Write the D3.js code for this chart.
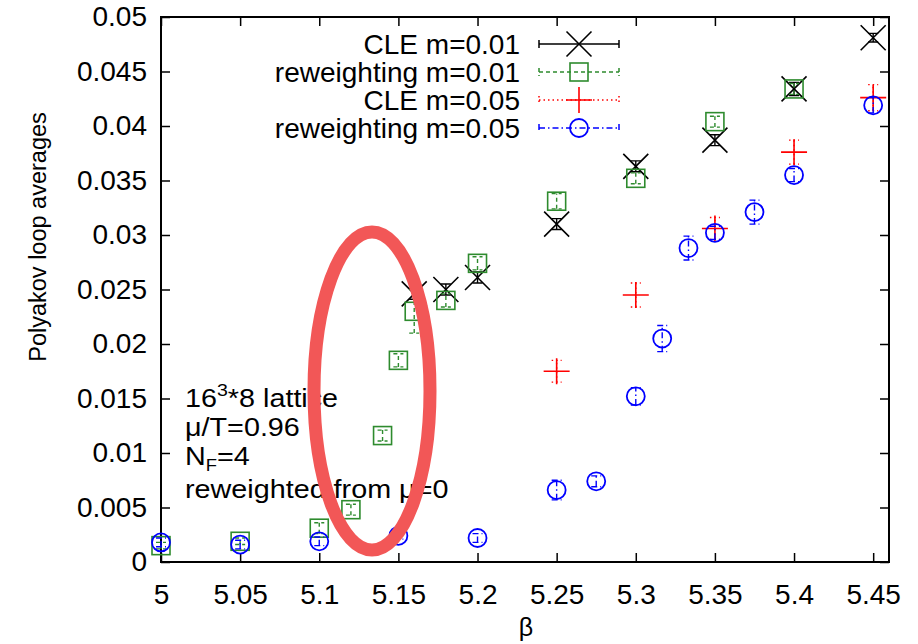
<!DOCTYPE html>
<html>
<head>
<meta charset="utf-8">
<script src="https://cdn.jsdelivr.net/npm/d3@7"></script>
<style>
  body { margin: 0; background: #fff; }
  text { font-family: "Liberation Sans", Arial, Helvetica, sans-serif; fill: #000; }
</style>
</head>
<body>
<div id="vis"></div>
<script>
var width = 918;
var height = 644;
var margin = { top: 17, right: 29, bottom: 82, left: 161 };

// CLE m=0.01
var betaCle01 = [5.16, 5.18, 5.2, 5.25, 5.3, 5.35, 5.4, 5.45];
var cle01 = [0.0246, 0.0250, 0.0261, 0.0310, 0.0363, 0.0387, 0.0434, 0.0481];
var cle01Err = [0.0005, 0.0005, 0.0005, 0.0005, 0.0005, 0.0005, 0.0006, 0.0004];

// reweighting m=0.01
var betaRw01 = [5.0, 5.05, 5.1, 5.12, 5.14, 5.15, 5.16, 5.18, 5.2, 5.25, 5.3, 5.35, 5.4];
var rw01 = [0.0015, 0.0019, 0.0031, 0.0048, 0.0116, 0.0185, 0.0230, 0.0240, 0.0274, 0.0331, 0.0352, 0.0404, 0.0434];
var rw01Err = [0.0003, 0.0003, 0.0005, 0.0005, 0.0005, 0.0006, 0.0020, 0.0006, 0.0006, 0.0007, 0.0005, 0.0005, 0.0005];

// CLE m=0.05
var betaCle05 = [5.25, 5.3, 5.35, 5.4, 5.45];
var cle05 = [0.0175, 0.0245, 0.0306, 0.0376, 0.0426];
var cle05Err = [0.0010, 0.0011, 0.0010, 0.0011, 0.0012];

// reweighting m=0.05
var betaRw05 = [5.0, 5.05, 5.1, 5.15, 5.2, 5.25, 5.275, 5.3, 5.3167, 5.3333, 5.35, 5.375, 5.4, 5.45];
var rw05 = [0.0018, 0.0016, 0.0019, 0.0024, 0.0022, 0.0066, 0.0074, 0.0152, 0.0205, 0.0288, 0.0302, 0.0321, 0.0355, 0.0419];
var rw05Err = [0.0004, 0.0004, 0.0004, 0.0003, 0.0004, 0.0009, 0.0005, 0.0008, 0.0012, 0.0011, 0.0006, 0.0011, 0.0006, 0.0007];

var xTicks = [5, 5.05, 5.1, 5.15, 5.2, 5.25, 5.3, 5.35, 5.4, 5.45];
var yTicks = [0, 0.005, 0.01, 0.015, 0.02, 0.025, 0.03, 0.035, 0.04, 0.045, 0.05];

var legendLabels = ['CLE m=0.01', 'reweighting m=0.01', 'CLE m=0.05', 'reweighting m=0.05'];
var noteLines = ['16|3|*8 lattice', 'μ/T=0.96', 'N_F=4', 'reweighted from μ=0'];

var series = [
    { beta: betaCle01, val: cle01, err: cle01Err, color: '#000000', dash: null, marker: 'x' },
    { beta: betaRw01, val: rw01, err: rw01Err, color: '#2e8b2e', dash: '4,3', marker: 'square' },
    { beta: betaCle05, val: cle05, err: cle05Err, color: '#ff0000', dash: '1.5,3', marker: 'plus' },
    { beta: betaRw05, val: rw05, err: rw05Err, color: '#0000ff', dash: '6,3,1.5,3', marker: 'circle' }
];

var svg = d3.select('#vis').append('svg')
    .attr('width', width)
    .attr('height', height);

var x = d3.scaleLinear().domain([5, 5.46]).range([margin.left, width - margin.right]);
var y = d3.scaleLinear().domain([0, 0.05]).range([height - margin.bottom, margin.top]);

// tick marks on all four sides, pointing inward
var tickLen = 9;
var yAxisL = d3.axisLeft(y).tickValues(yTicks).tickSizeInner(-tickLen).tickSizeOuter(0).tickPadding(14)
    .tickFormat(function (d) { return d === 0 ? '0' : String(+d.toFixed(3)); });
var yAxisR = d3.axisRight(y).tickValues(yTicks).tickSizeInner(-tickLen).tickSizeOuter(0).tickFormat('');
var xAxisB = d3.axisBottom(x).tickValues(xTicks).tickSizeInner(-tickLen).tickSizeOuter(0).tickPadding(22)
    .tickFormat(function (d) { return d === 5 ? '5' : String(+d.toFixed(2)); });
var xAxisT = d3.axisTop(x).tickValues(xTicks).tickSizeInner(-tickLen).tickSizeOuter(0).tickFormat('');

function styleAxis(g) {
    g.select('.domain').remove();
    g.selectAll('line').attr('stroke', '#000').attr('stroke-width', 1.5);
    g.selectAll('text').attr('font-size', 28).attr('font-family', '"Liberation Sans", Arial, sans-serif');
}

svg.append('g').attr('transform', 'translate(' + margin.left + ',0)').call(yAxisL).call(styleAxis);
svg.append('g').attr('transform', 'translate(' + (width - margin.right) + ',0)').call(yAxisR).call(styleAxis);
svg.append('g').attr('transform', 'translate(0,' + (height - margin.bottom) + ')').call(xAxisB).call(styleAxis);
svg.append('g').attr('transform', 'translate(0,' + margin.top + ')').call(xAxisT).call(styleAxis);

// frame
svg.append('rect')
    .attr('x', margin.left)
    .attr('y', margin.top)
    .attr('width', width - margin.left - margin.right)
    .attr('height', height - margin.top - margin.bottom)
    .attr('fill', 'none')
    .attr('stroke', '#000')
    .attr('stroke-width', 2);

// axis titles
svg.append('text')
    .attr('transform', 'translate(46,237) rotate(-90)')
    .attr('text-anchor', 'middle')
    .attr('font-size', 23.5)
    .text('Polyakov loop averages');

svg.append('text')
    .attr('x', 526)
    .attr('y', 636)
    .attr('text-anchor', 'middle')
    .attr('font-size', 25)
    .text('β');

// marker drawing
function drawMarker(g, type, cx, cy, color) {
    if (type === 'x') {
        g.append('path').attr('d', 'M' + (cx - 12.5) + ',' + (cy - 12.5) + 'L' + (cx + 12.5) + ',' + (cy + 12.5) +
            'M' + (cx - 12.5) + ',' + (cy + 12.5) + 'L' + (cx + 12.5) + ',' + (cy - 12.5))
            .attr('stroke', color).attr('stroke-width', 1.6).attr('fill', 'none');
    } else if (type === 'plus') {
        g.append('path').attr('d', 'M' + (cx - 13) + ',' + cy + 'L' + (cx + 13) + ',' + cy +
            'M' + cx + ',' + (cy - 13) + 'L' + cx + ',' + (cy + 13))
            .attr('stroke', color).attr('stroke-width', 1.6).attr('fill', 'none');
    } else if (type === 'square') {
        g.append('rect').attr('x', cx - 9).attr('y', cy - 9).attr('width', 18).attr('height', 18)
            .attr('stroke', color).attr('stroke-width', 1.6).attr('fill', 'none');
    } else {
        g.append('circle').attr('cx', cx).attr('cy', cy).attr('r', 9)
            .attr('stroke', color).attr('stroke-width', 1.8).attr('fill', 'none');
    }
}

function drawErrorBar(g, cx, y0, y1, s) {
    var capW = 5;
    g.append('path')
        .attr('d', 'M' + cx + ',' + y0 + 'L' + cx + ',' + y1 +
            'M' + (cx - capW) + ',' + y0 + 'L' + (cx + capW) + ',' + y0 +
            'M' + (cx - capW) + ',' + y1 + 'L' + (cx + capW) + ',' + y1)
        .attr('stroke', s.color)
        .attr('stroke-width', 1.4)
        .attr('stroke-dasharray', s.dash)
        .attr('fill', 'none');
}

// data points with error bars
series.forEach(function (s) {
    var g = svg.append('g');
    s.beta.forEach(function (b, i) {
        var cx = x(b);
        drawErrorBar(g, cx, y(s.val[i] - s.err[i]), y(s.val[i] + s.err[i]), s);
        drawMarker(g, s.marker, cx, y(s.val[i]), s.color);
    });
});

// legend
var legend = svg.append('g');
var legendY0 = 44;
var legendStep = 28;
series.forEach(function (s, i) {
    var ly = legendY0 + i * legendStep;
    legend.append('text')
        .attr('x', 520)
        .attr('y', ly)
        .attr('dy', '0.36em')
        .attr('text-anchor', 'end')
        .attr('font-size', 28)
        .text(legendLabels[i]);
    legend.append('path')
        .attr('d', 'M539,' + ly + 'L619,' + ly + 'M539,' + (ly - 4) + 'L539,' + (ly + 4) + 'M619,' + (ly - 4) + 'L619,' + (ly + 4))
        .attr('stroke', s.color)
        .attr('stroke-width', 1.5)
        .attr('stroke-dasharray', s.dash)
        .attr('fill', 'none');
    drawMarker(legend, s.marker, 579, ly, s.color);
});

// annotation text block (the original font is wider, so stretch horizontally)
var note = svg.append('g')
    .attr('transform', 'translate(185,0) scale(1.15,1)')
    .attr('font-size', 25);
var noteBase = [407, 436, 465, 498];
noteLines.forEach(function (line, i) {
    var t = note.append('text').attr('x', 0).attr('y', noteBase[i]);
    if (line.indexOf('|') >= 0) {
        var parts = line.split('|');
        t.append('tspan').text(parts[0]);
        t.append('tspan').attr('font-size', 17).attr('dy', -11).text(parts[1]);
        t.append('tspan').attr('dy', 11).text(parts[2]);
    } else if (line.indexOf('_') >= 0) {
        var sp = line.split('_');
        t.append('tspan').text(sp[0]);
        t.append('tspan').attr('font-size', 16).attr('dy', 6).text(sp[1].charAt(0));
        t.append('tspan').attr('dy', -6).text(sp[1].slice(1));
    } else {
        t.text(line);
    }
});

// red highlight ellipse drawn over the plot
svg.append('ellipse')
    .attr('cx', 372)
    .attr('cy', 391)
    .attr('rx', 58)
    .attr('ry', 159)
    .attr('fill', 'none')
    .attr('stroke', '#f25757')
    .attr('stroke-width', 13);
</script>
</body>
</html>
